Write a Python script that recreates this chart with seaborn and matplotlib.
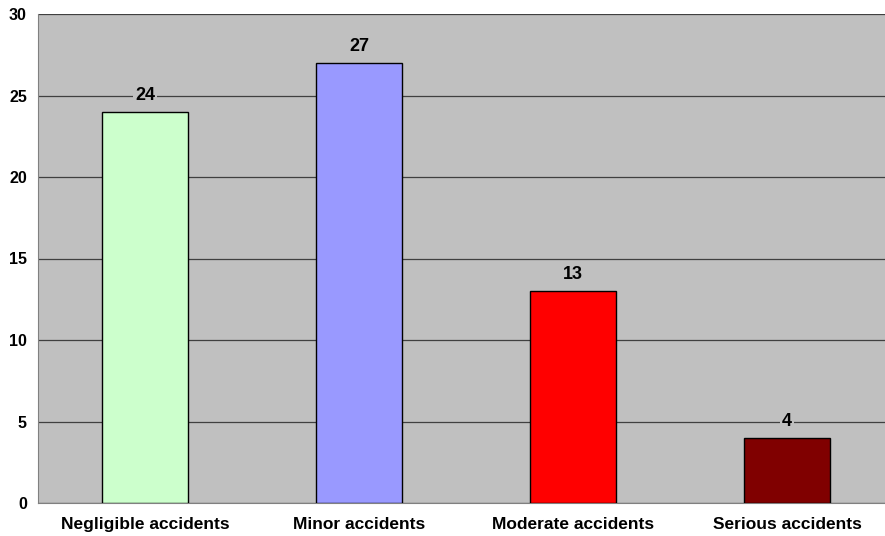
import matplotlib
matplotlib.use("Agg")
import matplotlib.pyplot as plt
import seaborn as sns

categories = ["Negligible accidents", "Minor accidents", "Moderate accidents", "Serious accidents"]
counts = [24, 27, 13, 4]
bar_colors = ["#CCFFCC", "#9999FF", "#FF0000", "#800000"]

sns.set_style("white")
plt.rcParams["font.family"] = ["Liberation Sans", "DejaVu Sans"]
plt.rcParams["text.color"] = "black"
plt.rcParams["xtick.color"] = "black"
plt.rcParams["ytick.color"] = "black"

fig = plt.figure(figsize=(8.85, 5.36), dpi=100)
# plot area runs a little past the right edge of the picture, as in the original
ax = fig.add_axes([38 / 885, 33 / 536, 856 / 885, 489 / 536])
ax.set_facecolor("#C0C0C0")

sns.barplot(x=categories, y=counts, hue=categories, palette=bar_colors, saturation=1,
            legend=False, width=0.4, edgecolor="black", linewidth=1, ax=ax, zorder=3)

ax.set_ylim(0, 30)
ax.set_xlim(-0.5, 3.5)
ax.set_yticks(range(0, 31, 5))
ax.grid(axis="y", color="#404040", linewidth=0.9, zorder=0)
ax.set_axisbelow(True)

for i, v in enumerate(counts):
    ax.text(i, v + 0.5, str(v), ha="center", va="bottom", fontsize=13, fontweight="bold",
            color="black", bbox=dict(facecolor="#C0C0C0", edgecolor="none", pad=1.5), zorder=4)

ax.set_xticks([0, 1, 2, 3])
ax.set_xticklabels(categories, fontsize=12.5, fontweight="bold")
ax.set_xticks([0.5, 1.5, 2.5], minor=True)
ax.tick_params(axis="x", which="major", length=0, pad=10)
ax.tick_params(axis="x", which="minor", length=4, color="#404040", direction="out")
ax.tick_params(axis="y", length=4, color="#404040", labelsize=11.5, pad=4)
for lbl in ax.get_yticklabels():
    lbl.set_fontweight("bold")

for side in ["top", "right"]:
    ax.spines[side].set_visible(False)
ax.spines["left"].set_color("#808080")
ax.spines["bottom"].set_color("#808080")
ax.set_xlabel("")
ax.set_ylabel("")

fig.savefig("out.png", dpi=100)
